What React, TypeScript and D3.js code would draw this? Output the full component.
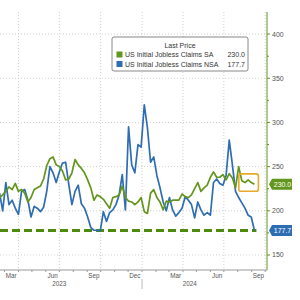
import * as d3 from 'd3';

const W = 300;
const H = 300;

// weekly observations, week ending Saturday
const START = new Date(Date.UTC(2023, 1, 18));
const END = new Date(Date.UTC(2024, 8, 8));

// US Initial Jobless Claims SA (thousands)
const claimsSA = [
  215, 218, 222, 227, 224, 231, 222, 224, 220, 210, 215, 224, 226, 228, 236, 251, 259, 261, 252, 250,
  245, 235, 236, 243, 258, 252, 248, 243, 235, 226, 212, 218, 216, 213, 208, 203, 215, 216, 218, 228,
  215, 211, 210, 207, 210, 215, 199, 197, 220, 224, 215, 210, 201, 211, 210, 212, 212, 212, 219, 216,
  215, 218, 225, 232, 222, 226, 229, 238, 244, 238, 238, 241, 235, 242, 237, 226, 250, 234, 232, 235,
  232, 230,
];

// US Initial Jobless Claims NSA (thousands)
const claimsNSA = [
  220, 200, 232, 207, 212, 203, 196, 222, 224, 212, 193, 205, 203, 199, 204, 222, 250, 243, 232, 244,
  254, 255, 230, 207, 222, 229, 208, 203, 193, 181, 178, 178, 177, 199, 188, 198, 201, 207, 218, 241,
  201, 295, 252, 243, 275, 272, 320, 294, 255, 261, 240, 226, 210, 200, 215, 201, 194, 198, 203, 216,
  212, 207, 192, 210, 201, 195, 198, 195, 232, 236, 231, 229, 240, 280, 252, 222, 215, 209, 203, 195,
  193, 177.7,
];

const yTicks = [150, 200, 250, 300, 350, 400];
const yMinorTicks = [175, 225, 275, 325, 375];
const monthLabels = ['Mar', 'Jun', 'Sep', 'Dec', 'Mar', 'Jun', 'Sep'];
const monthLabelDates = [
  [2023, 2], [2023, 5], [2023, 8], [2023, 11], [2024, 2], [2024, 5], [2024, 8],
];
const yearLabels = ['2023', '2024'];
const yearLabelDates = [[2023, 6, 1], [2024, 3, 16]];

const GREEN = '#63961c';
const BLUE = '#2f6db3';
const GRID = '#c4c4c4';
const TEXT = '#555';
const FONT = '"Liberation Sans", Arial, sans-serif';

export default function App() {
  const dates = d3.utcSaturday.range(START, END);

  const plotLeft = 0;
  const plotRight = 267;
  const plotTop = 12;
  const plotBottom = 270;

  const x = d3
    .scaleUtc()
    .domain([new Date(Date.UTC(2023, 1, 19)), new Date(Date.UTC(2024, 9, 5))])
    .range([plotLeft, plotRight]);
  const y = d3.scaleLinear().domain([133, 425]).range([plotBottom, plotTop]);

  const line = d3
    .line<number>()
    .x((_, i) => x(dates[i]))
    .y((d) => y(d));

  const quarters = d3.utcMonth
    .range(new Date(Date.UTC(2023, 1, 19)), new Date(Date.UTC(2024, 9, 5)))
    .filter((d) => d.getUTCMonth() % 3 === 0);
  const months = d3.utcMonth.range(new Date(Date.UTC(2023, 1, 19)), new Date(Date.UTC(2024, 9, 5)));

  const lastSA = claimsSA[claimsSA.length - 1];
  const lastNSA = claimsNSA[claimsNSA.length - 1];
  const lastX = x(dates[dates.length - 1]);

  // highlight box round the last few SA prints
  const boxPts = claimsSA.slice(-5);
  const boxX0 = x(dates[dates.length - 5]) - 3;
  const boxY0 = y(d3.max(boxPts)!) - 6;
  const boxY1 = y(d3.min(boxPts)!) + 7;

  const tag = (v: number, color: string) => {
    const cy = y(v);
    const x0 = plotRight + 2;
    return (
      <g key={color}>
        <path
          d={`M${x0},${cy} L${x0 + 3},${cy - 5.5} L${x0 + 23},${cy - 5.5} L${x0 + 23},${cy + 5.5} L${x0 + 3},${cy + 5.5} Z`}
          fill={color}
        />
        <text x={x0 + 13.5} y={cy} dy="0.35em" textAnchor="middle" fill="#fff" fontSize={7}>
          {v.toFixed(1)}
        </text>
      </g>
    );
  };

  return (
    <svg
      width={W}
      height={H}
      style={{ position: 'absolute', left: 0, top: 0, background: '#fff' }}
      fontFamily={FONT}
    >
      {/* grid */}
      {yTicks.map((t) => (
        <line
          key={t}
          x1={plotLeft}
          x2={plotRight}
          y1={y(t)}
          y2={y(t)}
          stroke={GRID}
          strokeWidth={0.8}
          strokeDasharray="1,2"
        />
      ))}
      {quarters.map((d) => (
        <line
          key={+d}
          x1={x(d)}
          x2={x(d)}
          y1={plotTop}
          y2={plotBottom}
          stroke={GRID}
          strokeWidth={0.8}
          strokeDasharray="1,2"
        />
      ))}

      {/* level of the latest NSA print */}
      <line
        x1={plotLeft}
        x2={lastX + 2}
        y1={y(lastNSA)}
        y2={y(lastNSA)}
        stroke="#4e8a0e"
        strokeWidth={3}
        strokeDasharray="8,4"
      />

      <path d={line(claimsNSA) ?? ''} fill="none" stroke={BLUE} strokeWidth={1.7} strokeLinejoin="round" />
      <path d={line(claimsSA) ?? ''} fill="none" stroke={GREEN} strokeWidth={1.7} strokeLinejoin="round" />

      <rect
        x={boxX0}
        y={boxY0}
        width={lastX + 4 - boxX0}
        height={boxY1 - boxY0}
        rx={2}
        fill="none"
        stroke="#e6a92c"
        strokeWidth={1.6}
      />

      {/* right axis */}
      <line x1={plotRight} x2={plotRight} y1={plotTop} y2={plotBottom} stroke={GREEN} strokeWidth={1} />
      {yTicks.map((t) => (
        <g key={t}>
          <line x1={plotRight} x2={plotRight + 3} y1={y(t)} y2={y(t)} stroke={GREEN} />
          <text x={plotRight + 5} y={y(t)} dy="0.35em" fill={TEXT} fontSize={7}>
            {t}
          </text>
        </g>
      ))}
      {yMinorTicks.map((t) => (
        <line key={t} x1={plotRight} x2={plotRight + 2} y1={y(t)} y2={y(t)} stroke={GREEN} />
      ))}
      {tag(lastSA, GREEN)}
      {tag(lastNSA, BLUE)}

      {/* bottom axis */}
      <line x1={plotLeft} x2={plotRight} y1={plotBottom} y2={plotBottom} stroke="#999" />
      {months.map((d) => (
        <line key={+d} x1={x(d)} x2={x(d)} y1={plotBottom} y2={plotBottom + 2} stroke="#999" />
      ))}
      {monthLabels.map((m, i) => {
        const [yr, mo] = monthLabelDates[i];
        return (
          <text
            key={i}
            x={x(new Date(Date.UTC(yr, mo, 16)))}
            y={plotBottom + 8}
            textAnchor="middle"
            fill={TEXT}
            fontSize={6.3}
          >
            {m}
          </text>
        );
      })}
      {yearLabels.map((l, i) => {
        const [yr, mo, dd] = yearLabelDates[i];
        return (
          <text
            key={l}
            x={x(new Date(Date.UTC(yr, mo, dd)))}
            y={plotBottom + 16}
            textAnchor="middle"
            fill={TEXT}
            fontSize={6.3}
          >
            {l}
          </text>
        );
      })}
      <line
        x1={x(new Date(Date.UTC(2024, 0, 1)))}
        x2={x(new Date(Date.UTC(2024, 0, 1)))}
        y1={plotBottom + 9}
        y2={plotBottom + 19}
        stroke="#bbb"
      />

      {/* legend */}
      <g>
        <rect x={112} y={37} width={136} height={34} rx={2} fill="#fff" stroke="#7a7a7a" strokeWidth={0.9} />
        <text x={180} y={48} textAnchor="middle" fill="#333" fontSize={7}>
          Last Price
        </text>
        {[
          { label: 'US Initial Jobless Claims SA', value: lastSA, color: GREEN },
          { label: 'US Initial Jobless Claims NSA', value: lastNSA, color: BLUE },
        ].map((e, i) => (
          <g key={e.label} transform={`translate(0, ${i * 9.5})`}>
            <rect x={116.5} y={51.5} width={6} height={6} fill={e.color} />
            <text x={125} y={57} fill="#333" fontSize={7}>
              {e.label}
            </text>
            <text x={245} y={57} textAnchor="end" fill="#333" fontSize={7}>
              {e.value.toFixed(1)}
            </text>
          </g>
        ))}
      </g>
    </svg>
  );
}
